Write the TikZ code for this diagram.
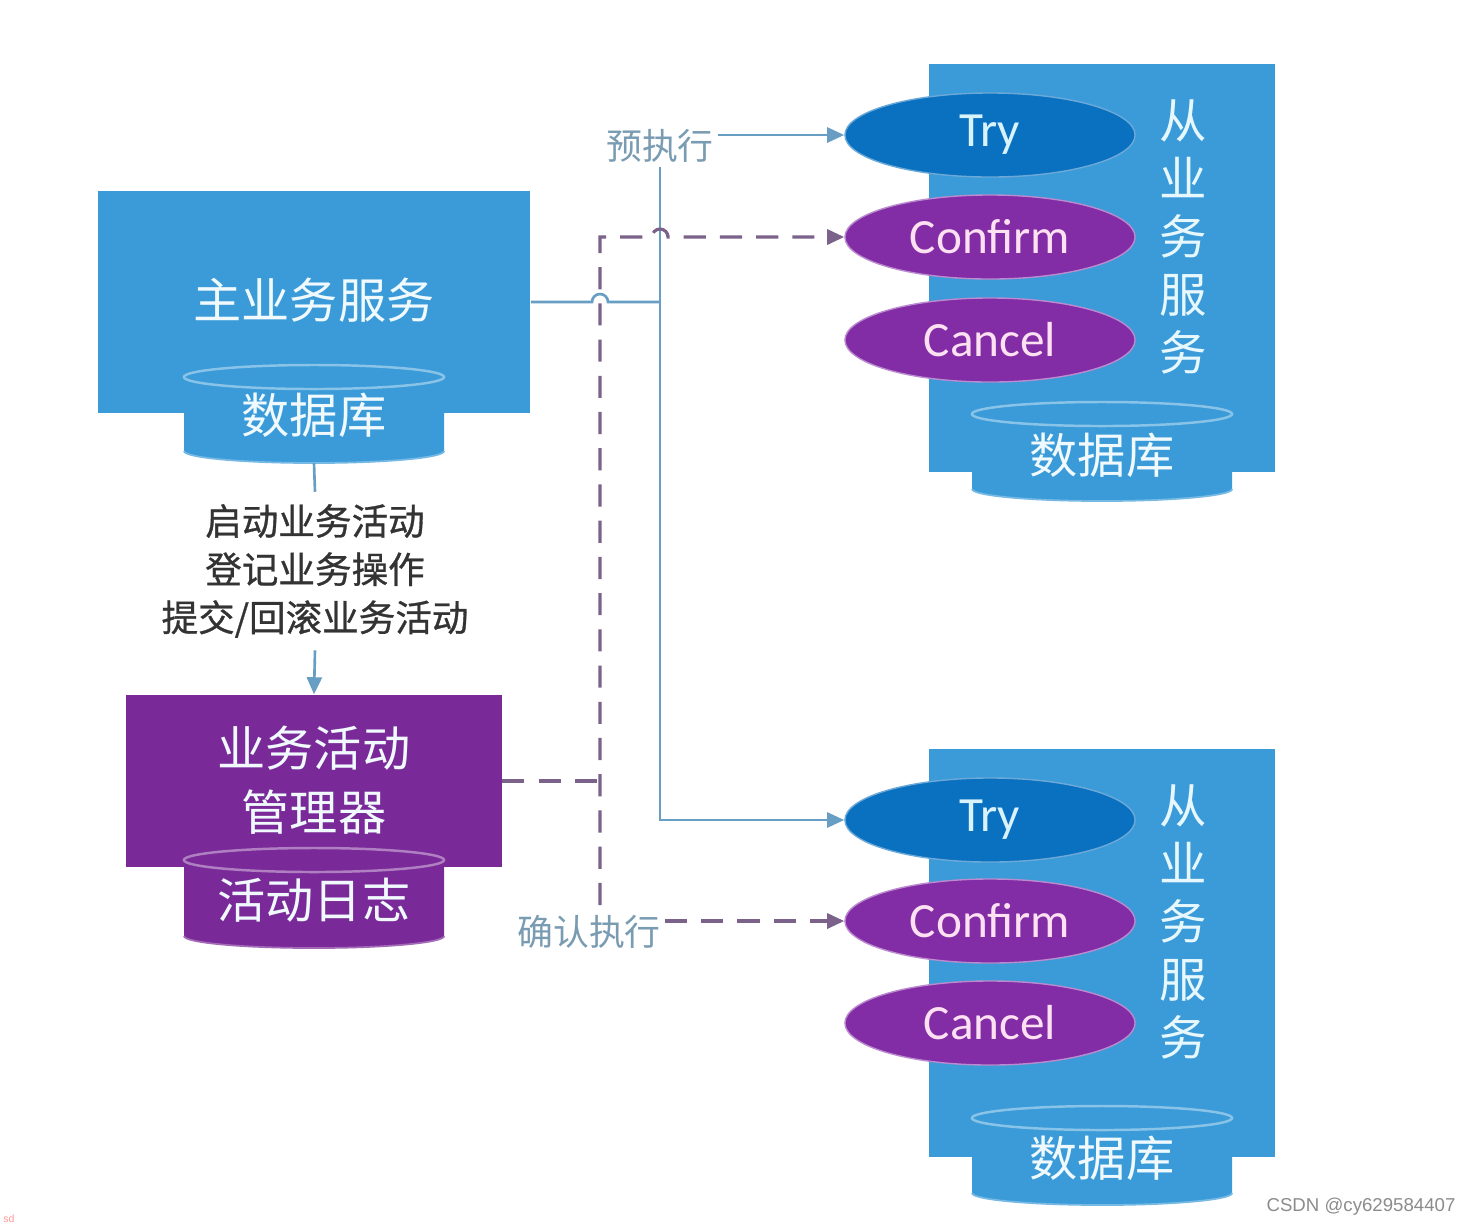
\documentclass[tikz,border=0pt]{standalone}
\usepackage{fontspec}
\setmainfont{Carlito}
\newfontfamily\cjk{Noto Sans CJK SC}
\newfontfamily\cjkmid[FakeBold=0.8]{Noto Sans CJK SC}
\newfontfamily\wmfont{Liberation Sans}
\usetikzlibrary{arrows.meta,shapes.geometric}

\definecolor{svcblue}{RGB}{58,155,216}
\definecolor{trydark}{RGB}{10,112,192}
\definecolor{mgrpurple}{RGB}{122,42,152}
\definecolor{oppurple}{RGB}{130,44,166}
\definecolor{solidc}{RGB}{104,158,196}
\definecolor{dashc}{RGB}{122,98,138}
\definecolor{lblc}{RGB}{122,156,178}

% database drum: centre x, top y, bottom y, colour
\newcommand{\dbdrum}[4]{%
  \fill[#4] (#1-130,#2) -- (#1-130,#3) arc (180:360:1.3cm and 0.12cm)
    -- (#1+130,#2) arc (0:180:1.3cm and 0.12cm) -- cycle;
  \draw[#4!60!white, line width=0.7pt] (#1,#2) ellipse (1.3cm and 0.12cm);
  \draw[#4!70!white, line width=0.5pt] (#1-130,#3) arc (180:360:1.3cm and 0.12cm);
}

\begin{document}
\begin{tikzpicture}[x=0.01cm,y=-0.01cm]
  \tikzset{
    box/.style={inner sep=0pt, text=white},
    op/.style={ellipse, inner sep=0pt, minimum width=2.9cm, minimum height=0.84cm,
      font=\fontsize{14}{16}\selectfont},
    tryop/.style={op, fill=trydark, draw=trydark!60!white, text=white!85!cyan},
    cmop/.style={op, fill=oppurple, draw=oppurple!55!white, text=white!88!magenta},
    bigcjk/.style={font=\cjk\fontsize{13.7}{18.2}\selectfont, text=white!94!cyan, align=center},
    vlabel/.style={font=\cjk\fontsize{13.5}{16.5}\selectfont, text=white!90!cyan, align=center},
    flowlbl/.style={font=\cjk\fontsize{10.2}{12}\selectfont, text=lblc, inner sep=1pt},
    solidln/.style={solidc, line width=0.75pt},
    dashln/.style={dashc, line width=0.9pt, dash pattern=on 6.3pt off 4pt},
    tip/.style={-{Triangle[length=0.17cm,width=0.15cm]}}
  }
  \useasboundingbox[fill=white] (0,0) rectangle (1460,1226);

  % main service
  \node[box, fill=svcblue, minimum width=4.32cm, minimum height=2.21cm] (main) at (314,302) {};
  \node[bigcjk] at (314,300) {主业务服务};
  \dbdrum{314}{377}{451}{svcblue}
  \node[bigcjk] (db0) at (314,415) {数据库};
  \coordinate (db0b) at (314,463);

  % activity manager
  \node[box, fill=mgrpurple, minimum width=3.75cm, minimum height=1.72cm] (mgr) at (314,781) {};
  \node[bigcjk] at (314,780) {业务活动\\管理器};
  \dbdrum{314}{860}{936}{mgrpurple}
  \node[bigcjk] (log) at (314,900) {活动日志};

  \node[font=\cjkmid\fontsize{10.4}{13.7}\selectfont, text=black!80, align=center] (steps) at (315,571)
    {启动业务活动\\登记业务操作\\提交/回滚业务活动};
  \draw[solidln] (db0b) -- (steps.north);
  \draw[solidln, tip] (steps.south) -- (mgr.north);

  % slave service 1
  \node[box, fill=svcblue, minimum width=3.45cm, minimum height=4.07cm] (slave1) at (1102,268) {};
  \node[vlabel] at (1183,237) {从\\业\\务\\服\\务};
  \dbdrum{1102}{414}{489}{svcblue}
  \node[bigcjk] (db1) at (1102,455) {数据库};
  \node[tryop] (try1) at (990,135) {Try};
  \node[cmop] (conf1) at (990,237) {Confirm};
  \node[cmop] (canc1) at (990,340) {Cancel};

  % slave service 2
  \node[box, fill=svcblue, minimum width=3.45cm, minimum height=4.07cm] (slave2) at (1102,953) {};
  \node[vlabel] at (1183,922) {从\\业\\务\\服\\务};
  \dbdrum{1102}{1118}{1193}{svcblue}
  \node[bigcjk] (db2) at (1102,1158) {数据库};
  \node[tryop] (try2) at (990,820) {Try};
  \node[cmop] (conf2) at (990,921) {Confirm};
  \node[cmop] (canc2) at (990,1023) {Cancel};

  % try phase
  \node[flowlbl] (pre) at (660,146) {预执行};
  \draw[solidln, tip] (pre.east |- try1.west) -- (try1.west);
  \draw[solidln] (main.east) -- (592,302) arc (180:0:0.08cm) -- (660,302);
  \draw[solidln, tip] (pre.south) |- (try2.west);

  % confirm phase
  \node[flowlbl] (cfm) at (589,932) {确认执行};
  \coordinate (dtop) at (600,237);
  \coordinate (dbot) at (600,905);
  \draw[dashln] (mgr.east) -- (mgr.east -| dtop);
  \draw[dashln, tip] (dbot) -- (dtop) -- (652,237) arc (180:0:0.08cm) -- (conf1.west);
  \draw[dashln, tip] (cfm.east |- conf2.west) -- (conf2.west);

  % watermarks
  \node[font=\wmfont\fontsize{5.3}{6}\selectfont, text=black!45] (wm) at (1361,1207) {CSDN @cy629584407};
  \node[font=\wmfont\fontsize{3}{4}\selectfont, text=red!40] (sd) at (9,1219) {sd};
\end{tikzpicture}
\end{document}
